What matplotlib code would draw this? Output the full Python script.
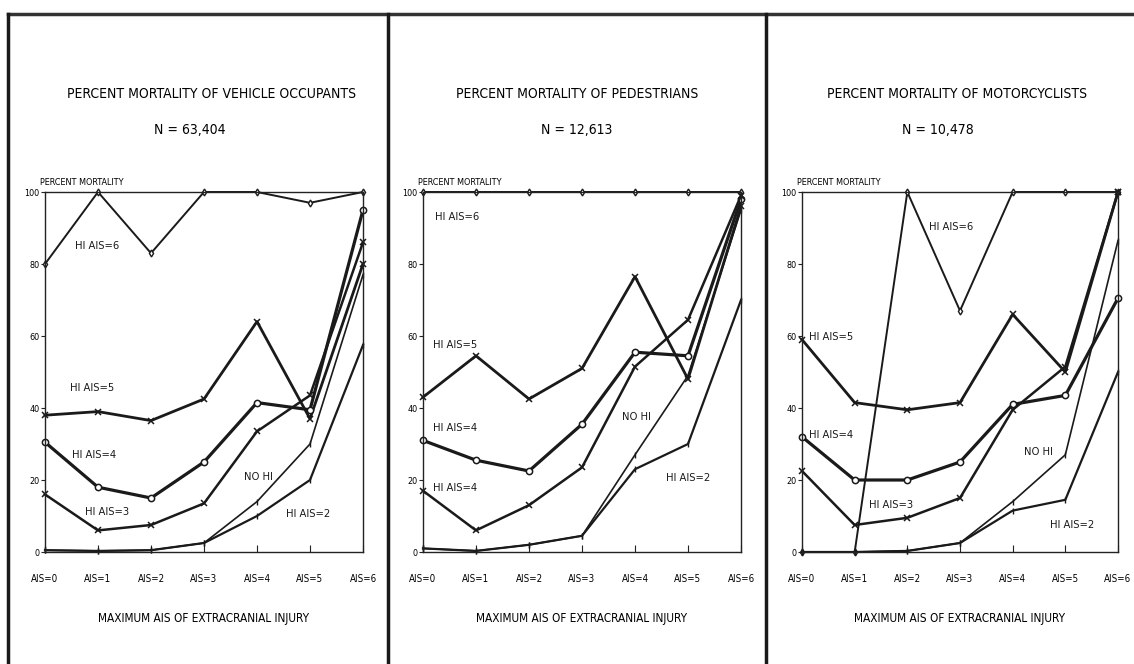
import matplotlib
matplotlib.use("Agg")
import matplotlib.pyplot as plt
from matplotlib.lines import Line2D

plt.rcParams['font.family'] = ['DejaVu Sans']
plt.rcParams['font.stretch'] = 'condensed'

x_labels = ["AIS=0", "AIS=1", "AIS=2", "AIS=3", "AIS=4", "AIS=5", "AIS=6"]
x_pos = [0, 1, 2, 3, 4, 5, 6]
y_ticks = [0, 20, 40, 60, 80, 100]

titles = ["PERCENT MORTALITY OF VEHICLE OCCUPANTS",
          "PERCENT MORTALITY OF PEDESTRIANS",
          "PERCENT MORTALITY OF MOTORCYCLISTS"]
n_labels = ["N = 63,404", "N = 12,613", "N = 10,478"]

# Vehicle occupants
veh_hi6 = [80, 100, 83, 100, 100, 97, 100]
veh_hi5 = [38, 39, 36.5, 42.5, 64, 37, 80]
veh_hi4 = [30.5, 18, 15, 25, 41.5, 39.5, 95]
veh_hi3 = [16, 6, 7.5, 13.5, 33.5, 43.5, 86]
veh_nohi = [0.5, 0.3, 0.5, 2.5, 14, 30, 77]
veh_hi2 = [0.5, 0.3, 0.5, 2.5, 10, 20, 57.5]

# Pedestrians
ped_hi6 = [100, 100, 100, 100, 100, 100, 100]
ped_hi5 = [43, 54.5, 42.5, 51, 76.5, 48, 96]
ped_hi4 = [31, 25.5, 22.5, 35.5, 55.5, 54.5, 98]
ped_hi3 = [17, 6, 13, 23.5, 51.5, 64.5, 99]
ped_nohi = [1, 0.3, 2, 4.5, 27, 49, 95]
ped_hi2 = [1, 0.3, 2, 4.5, 23, 30, 70]

# Motorcyclists
mot_hi6 = [0, 0, 100, 67, 100, 100, 100]
mot_hi5 = [59, 41.5, 39.5, 41.5, 66, 50, 100]
mot_hi4 = [32, 20, 20, 25, 41, 43.5, 70.5]
mot_hi3 = [22.5, 7.5, 9.5, 15, 39.5, 51.5, 100]
mot_nohi = [0, 0, 0.3, 2.5, 14, 27, 86.5]
mot_hi2 = [0, 0, 0.3, 2.5, 11.5, 14.5, 50]

panels = [
    dict(hi6=veh_hi6, hi5=veh_hi5, hi4=veh_hi4, hi3=veh_hi3, nohi=veh_nohi, hi2=veh_hi2,
         labels=[("HI AIS=6", 0.98, 85, 'center'), ("HI AIS=5", 0.88, 45.5, 'center'),
                 ("HI AIS=4", 0.92, 27, 'center'), ("HI AIS=3", 1.18, 11.2, 'center'),
                 ("NO HI", 4.02, 20.9, 'center'), ("HI AIS=2", 4.97, 10.5, 'center')]),
    dict(hi6=ped_hi6, hi5=ped_hi5, hi4=ped_hi4, hi3=ped_hi3, nohi=ped_nohi, hi2=ped_hi2,
         labels=[("HI AIS=6", 0.22, 93, 'left'), ("HI AIS=5", 0.19, 57.5, 'left'),
                 ("HI AIS=4", 0.19, 34.5, 'left'), ("HI AIS=4", 0.19, 17.8, 'left'),
                 ("NO HI", 4.02, 37.6, 'center'), ("HI AIS=2", 5.01, 20.5, 'center')]),
    dict(hi6=mot_hi6, hi5=mot_hi5, hi4=mot_hi4, hi3=mot_hi3, nohi=mot_nohi, hi2=mot_hi2,
         labels=[("HI AIS=6", 2.84, 90.4, 'center'), ("HI AIS=5", 0.13, 59.8, 'left'),
                 ("HI AIS=4", 0.13, 32.5, 'left'), ("HI AIS=3", 1.70, 13, 'center'),
                 ("NO HI", 4.49, 27.9, 'center'), ("HI AIS=2", 5.12, 7.5, 'center')]),
]

fig = plt.figure(figsize=(11.34, 6.64), dpi=100)
fig.patch.set_facecolor('white')

W, H = 1134, 664
ax_lefts = [45, 423, 802]
ax_rights = [363, 741, 1118]
ax_top, ax_bottom = 192, 552
title_centers = [212, 577, 957]
n_centers = [190, 577, 938]

styles = [
    ('hi6', dict(lw=1.4, marker='d', ms=3.5, mfc='white')),
    ('hi5', dict(lw=2.0, marker='x', ms=5, mew=1.1)),
    ('hi4', dict(lw=2.3, marker='o', ms=4.5, mfc='white', mew=1.1)),
    ('hi3', dict(lw=1.8, marker='x', ms=4.5, mew=1.1)),
    ('nohi', dict(lw=1.2, marker='|', ms=4)),
    ('hi2', dict(lw=1.6, marker='|', ms=4)),
]

for i, p in enumerate(panels):
    l, r = ax_lefts[i], ax_rights[i]
    ax = fig.add_axes([l / W, 1 - ax_bottom / H, (r - l) / W, (ax_bottom - ax_top) / H])
    for key, st in styles:
        ax.plot(x_pos, p[key], color='#1a1a1a', clip_on=False, **st)
    ax.set_xlim(0, 6)
    ax.set_ylim(0, 100)
    ax.set_xticks(x_pos)
    ax.set_xticklabels(x_labels, fontsize=7)
    ax.set_yticks(y_ticks)
    ax.set_yticklabels([str(v) for v in y_ticks], fontsize=6.5)
    ax.tick_params(axis='x', direction='in', length=5, pad=16, color='#222222')
    ax.tick_params(axis='y', direction='out', length=3, pad=1, color='#222222')
    for s in ax.spines.values():
        s.set_linewidth(1.0)
        s.set_color('#222222')
    ax.set_xlabel("MAXIMUM AIS OF EXTRACRANIAL INJURY", fontsize=8.5, labelpad=20)
    for txt, tx, ty, ha in p['labels']:
        ax.text(tx, ty, txt, fontsize=8, ha=ha, va='center', color='#1a1a1a')
    ax.text(-0.015, 1.015, "PERCENT MORTALITY", transform=ax.transAxes, fontsize=6.5,
            ha='left', va='bottom')
    fig.text(title_centers[i] / W, 1 - 94 / H, titles[i], fontsize=10, ha='center', va='center')
    fig.text(n_centers[i] / W, 1 - 130 / H, n_labels[i], fontsize=10, ha='center', va='center')

# frame lines
fig.add_artist(Line2D([8 / W, 1.0], [1 - 14 / H, 1 - 14 / H], color='#333333', lw=2.5,
                      transform=fig.transFigure))
for xx in [8, 388, 766]:
    fig.add_artist(Line2D([xx / W, xx / W], [0, 1 - 14 / H], color='#1a1a1a', lw=2.5,
                          transform=fig.transFigure))

fig.savefig("out.png", dpi=100)
